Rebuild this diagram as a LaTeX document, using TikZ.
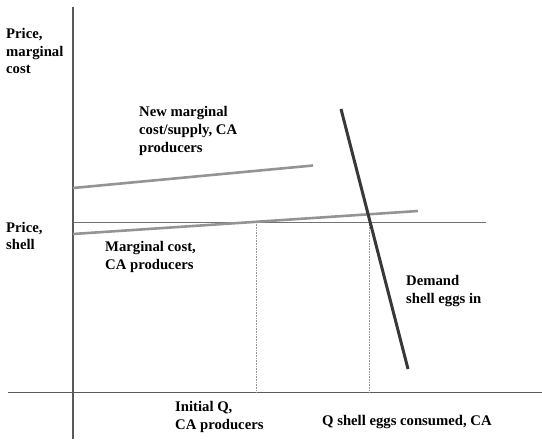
\documentclass[tikz,border=0pt]{standalone}
\usepackage{fontspec}
\setmainfont{Liberation Serif}
\begin{document}
\begin{tikzpicture}[x=1pt,y=-1pt,
  lbl/.style={font=\fontsize{14.7}{17.7}\selectfont\bfseries, align=left, inner sep=0pt, anchor=west, text=black},
  axisline/.style={draw=black!65, line width=1.1pt},
  pline/.style={draw=black!55, line width=0.8pt},
  supply/.style={draw=black!42, line width=2.6pt},
  demand/.style={draw=black!78, line width=3pt},
  guide/.style={draw=black!40, line width=0.6pt, densely dotted}]
\useasboundingbox (0,0) rectangle (542,440);
% axes
\coordinate (yt) at (73,7);
\coordinate (yb) at (73,439);
\coordinate (xl) at (8,392.5);
\coordinate (xr) at (542,392.5);
\draw[axisline] (yt) -- (yb);
\draw[axisline] (xl) -- (xr);
% price line
\coordinate (p0) at (73,222);
\coordinate (p1) at (486,222);
\draw[pline] (p0) -- (p1);
% supply lines
\coordinate (s0) at (73,234);
\coordinate (s1) at (418,211);
\coordinate (n0) at (73,188);
\coordinate (n1) at (313,165.5);
\draw[supply] (s0) -- (s1);
\draw[supply] (n0) -- (n1);
% guides
\coordinate (g1t) at (256,222);
\coordinate (g1b) at (256,392);
\coordinate (g2t) at (369,222);
\coordinate (g2b) at (369,392);
\draw[guide] (g1t) -- (g1b);
\draw[guide] (g2t) -- (g2b);
% demand
\coordinate (d0) at (341,109);
\coordinate (d1) at (408,369);
\draw[demand] (d0) -- (d1);
% labels
\node[lbl] (lpm) at (6,51) {Price,\\marginal\\cost};
\node[lbl] (lnew) at (139,131) {New marginal\\cost/supply, CA\\producers};
\node[lbl] (lps) at (6,236) {Price,\\shell};
\node[lbl] (lmc) at (105,257) {Marginal cost,\\CA producers};
\node[lbl] (ldem) at (406,291) {Demand\\shell eggs in};
\node[lbl] (liq) at (175,417) {Initial Q,\\CA producers};
\node[lbl] (lq) at (322,422) {Q shell eggs consumed, CA};
\end{tikzpicture}
\end{document}
